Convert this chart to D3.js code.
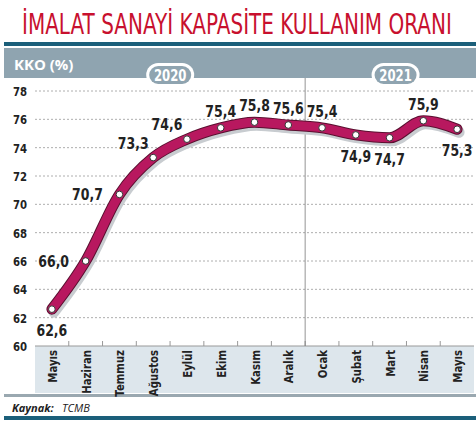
<!DOCTYPE html><html><head><meta charset="utf-8">
<script src="https://cdn.jsdelivr.net/npm/d3@7"></script>
<style>body{margin:0;background:#fff}</style></head><body><svg id="c" width="476" height="426"></svg>
<script>
const months=["Mayıs","Haziran","Temmuz","Ağustos","Eylül","Ekim","Kasım","Aralık","Ocak","Şubat","Mart","Nisan","Mayıs"];
const values=[62.6,66.0,70.7,73.3,74.6,75.4,75.8,75.6,75.4,74.9,74.7,75.9,75.3];
const labelSide=["below","left","left","upleft","upleft","above","above","above","above","below","below","above","below"];
const yTicks=[60,62,64,66,68,70,72,74,76,78];
const years=["2020","2021"];

const svg=d3.select("#c");
const cond="'DejaVu Sans',sans-serif";
const x=d3.scaleBand().domain(d3.range(months.length)).range([35,474]);
const y=d3.scaleLinear().domain([60,78]).range([346,91]);
const cx=i=>x(i)+x.bandwidth()/2;
const ct=(sel,tx,ty,rot)=>sel.attr("transform",`translate(${tx},${ty})${rot?" rotate(-90)":""} scale(0.78,1)`);

const title=svg.append("text").attr("x",0).attr("y",0).attr("font-family",cond).attr("font-size",29).attr("fill","#c8102e").text("İMALAT SANAYİ KAPASİTE KULLANIM ORANI");
const tw=title.node().getComputedTextLength();
title.attr("transform",`translate(22,34) scale(${430/tw},1)`);
svg.append("rect").attr("x",4).attr("y",42).attr("width",472).attr("height",4).attr("fill","#1b5f7a");
svg.append("rect").attr("x",4).attr("y",48).attr("width",472).attr("height",30).attr("fill","#8fa4b0");
svg.append("text").attr("x",14).attr("y",70).attr("font-family","'Open Sans',sans-serif").attr("font-weight","bold").attr("font-size",15).attr("fill","#fff").text("KKO (%)");
svg.append("rect").attr("x",35).attr("y",346).attr("width",439).attr("height",47).attr("fill","#dde6ec");
svg.append("rect").attr("x",4).attr("y",394).attr("width",472).attr("height",3).attr("fill","#9aa8b0");
svg.append("text").attr("x",12).attr("y",412).attr("font-family","'Open Sans',sans-serif").attr("font-style","italic").attr("font-weight","bold").attr("font-size",11).attr("fill","#222").text("Kaynak:");
svg.append("text").attr("x",62).attr("y",412).attr("font-family","'Open Sans',sans-serif").attr("font-style","italic").attr("font-size",11).attr("fill","#222").text("TCMB");
svg.append("rect").attr("x",4).attr("y",416).attr("width",472).attr("height",4).attr("fill","#1b5f7a");

const g=svg.append("g");
g.selectAll(".gl").data(yTicks.filter(t=>t>60)).join("line").attr("x1",35).attr("x2",474).attr("y1",d=>y(d)).attr("y2",d=>y(d))
 .attr("stroke","#999").attr("stroke-dasharray","2,2").attr("stroke-width",0.8);
g.append("line").attr("x1",35).attr("x2",474).attr("y1",y(60)).attr("y2",y(60)).attr("stroke","#999");
g.selectAll(".yt").data(yTicks).join("text").each(function(d){ct(d3.select(this),20,y(d)+5);})
 .attr("text-anchor","middle").attr("font-family",cond).attr("font-weight","bold").attr("font-size",13).attr("fill","#222").text(d=>d);
g.selectAll(".tk").data(d3.range(1,months.length)).join("line").attr("x1",d=>x(d)).attr("x2",d=>x(d)).attr("y1",y(60)-5).attr("y2",y(60)).attr("stroke","#999");
g.append("line").attr("x1",x(8)).attr("x2",x(8)).attr("y1",78).attr("y2",y(60)).attr("stroke","#777").attr("stroke-width",0.8);
g.selectAll(".ml").data(months).join("text").each(function(d,i){ct(d3.select(this),cx(i)+5,350,true);}).attr("text-anchor","end")
 .attr("font-family",cond).attr("font-weight","bold").attr("font-size",13).attr("fill","#222").text(d=>d);
years.forEach((t,k)=>{
 const xx=k===0?x(3)+x.bandwidth()/2+17:x(10)+x.bandwidth()/2+6;
 svg.append("rect").attr("x",xx-24).attr("y",63).attr("width",48).attr("height",24).attr("rx",12).attr("fill","#fff");
 svg.append("rect").attr("x",xx-21).attr("y",66).attr("width",42).attr("height",18).attr("rx",9).attr("fill","#8fa4b0");
 ct(svg.append("text"),xx,81).attr("text-anchor","middle").attr("font-family",cond).attr("font-weight","bold").attr("font-size",15).attr("fill","#fff").text(t);
});
const line=d3.line().x((d,i)=>cx(i)).y(d=>y(d)).curve(d3.curveMonotoneX);
g.append("path").attr("d",line(values)).attr("fill","none").attr("stroke","#c8ccd0").attr("stroke-width",11).attr("stroke-linecap","round").attr("transform","translate(2,3)");
g.append("path").attr("d",line(values)).attr("fill","none").attr("stroke","#5a1030").attr("stroke-width",11).attr("stroke-linecap","round").attr("stroke-linejoin","round");
g.append("path").attr("d",line(values)).attr("fill","none").attr("stroke","#b8185f").attr("stroke-width",9).attr("stroke-linecap","round").attr("stroke-linejoin","round");
g.selectAll(".pt").data(values).join("circle").attr("cx",(d,i)=>cx(i)).attr("cy",d=>y(d)).attr("r",3.3).attr("fill","#fff").attr("stroke","#333").attr("stroke-width",1);
const off={below:[0,27],left:[-32,6],upleft:[-20,-9],above:[0,-11]};
g.selectAll(".vl").data(values).join("text").each(function(d,i){ct(d3.select(this),cx(i)+off[labelSide[i]][0],y(d)+off[labelSide[i]][1]);})
 .attr("text-anchor","middle").attr("font-family",cond).attr("font-weight","bold").attr("font-size",16).attr("fill","#222")
 .text(d=>d.toFixed(1).replace(".",","));
</script></body></html>
